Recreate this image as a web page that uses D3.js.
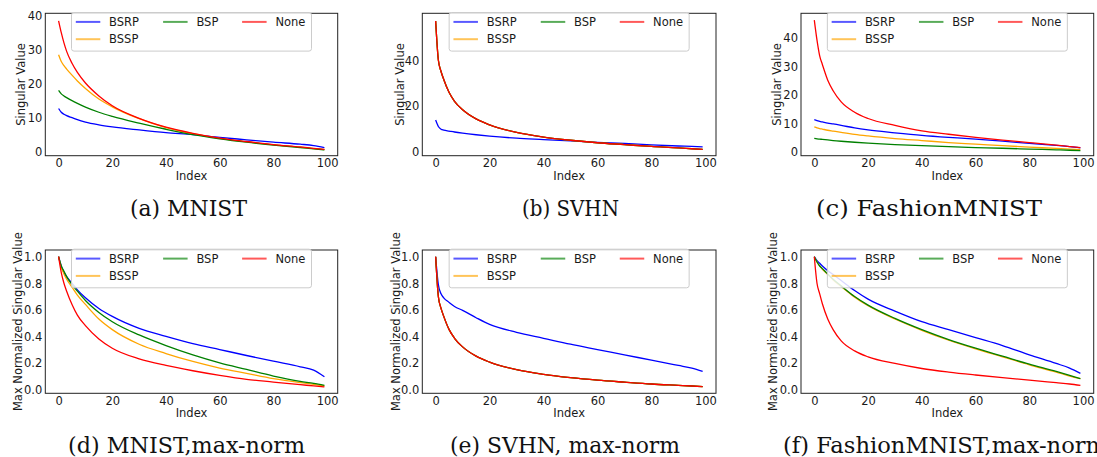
<!DOCTYPE html>
<html><head><meta charset="utf-8">
<script src="https://cdn.jsdelivr.net/npm/d3@7"></script>
<style>body{margin:0;background:#fff}</style></head>
<body><svg id="chart" width="1097" height="457"></svg>
<script>
// ---------- data ----------
const seriesNames = ["BSRP", "BSSP", "BSP", "None"];
const seriesColors = ["#0000ff", "#ffa500", "#008000", "#ff0000"];
const indexPts = [0, 1, 2, 3, 5, 7, 10, 15, 20, 30, 40, 50, 60, 70, 80, 90, 95, 99];
const xTicks = [0, 20, 40, 60, 80, 100];

// (a) MNIST raw singular values
const mnistBSRP = [12.7, 11.6, 11.0, 10.6, 10.0, 9.4, 8.7, 7.9, 7.3, 6.4, 5.6, 5.0, 4.2, 3.5, 2.8, 2.2, 1.8, 1.2];
const mnistBSSP = [28.5, 26.5, 25.3, 24.3, 22.5, 20.8, 18.6, 15.5, 13.2, 9.7, 7.1, 5.3, 3.9, 2.9, 2.0, 1.3, 0.9, 0.6];
const mnistBSP  = [18.0, 17.0, 16.4, 15.9, 15.0, 14.2, 13.1, 11.6, 10.4, 8.4, 6.6, 5.0, 3.8, 2.8, 1.95, 1.2, 0.85, 0.55];
const mnistNone = [38.5, 35.0, 32.0, 29.5, 26.0, 23.3, 20.2, 16.4, 13.5, 9.8, 7.2, 5.4, 4.0, 3.0, 2.1, 1.4, 1.0, 0.7];
// (b) SVHN raw
const svhnBSRP = [13.8, 11.0, 9.8, 9.4, 9.0, 8.6, 8.1, 7.4, 6.8, 5.9, 5.3, 4.7, 4.1, 3.6, 3.0, 2.5, 2.3, 2.1];
const svhnBSSP = [57.0, 40.0, 35.0, 31.5, 25.8, 22.0, 18.3, 14.3, 11.7, 8.4, 6.4, 5.0, 3.9, 3.1, 2.3, 1.7, 1.3, 1.0];
const svhnBSP  = [57.0, 40.0, 35.0, 31.5, 25.8, 22.0, 18.3, 14.3, 11.7, 8.4, 6.4, 5.0, 3.9, 3.1, 2.3, 1.7, 1.3, 1.0];
const svhnNone = [57.0, 40.0, 35.0, 31.5, 25.8, 22.0, 18.3, 14.3, 11.7, 8.4, 6.4, 5.0, 3.9, 3.1, 2.3, 1.7, 1.3, 1.0];
// (c) FashionMNIST raw
const fashionBSRP = [11.2, 10.9, 10.6, 10.4, 10.0, 9.7, 9.2, 8.3, 7.6, 6.6, 5.7, 5.0, 4.4, 3.7, 2.9, 2.2, 1.8, 1.35];
const fashionBSSP = [8.7, 8.35, 8.1, 7.9, 7.5, 7.2, 6.75, 6.05, 5.5, 4.6, 3.9, 3.2, 2.65, 2.1, 1.6, 1.15, 0.9, 0.7];
const fashionBSP  = [4.7, 4.5, 4.4, 4.3, 4.1, 3.9, 3.65, 3.3, 3.0, 2.5, 2.1, 1.75, 1.45, 1.2, 0.9, 0.65, 0.5, 0.4];
const fashionNone = [46.0, 39.0, 33.5, 30.5, 25.0, 21.3, 17.4, 13.8, 11.6, 9.2, 7.3, 6.1, 5.0, 4.05, 3.2, 2.3, 1.8, 1.4];
// (d) MNIST max-norm
const mnistNormBSRP = [1.0, 0.93, 0.88, 0.85, 0.80, 0.75, 0.69, 0.61, 0.55, 0.46, 0.40, 0.345, 0.30, 0.255, 0.212, 0.17, 0.145, 0.095];
const mnistNormBSSP = [1.0, 0.92, 0.87, 0.83, 0.77, 0.71, 0.64, 0.53, 0.45, 0.34, 0.27, 0.21, 0.16, 0.12, 0.08, 0.05, 0.037, 0.025];
const mnistNormBSP  = [1.0, 0.93, 0.89, 0.85, 0.79, 0.74, 0.67, 0.58, 0.51, 0.41, 0.33, 0.26, 0.20, 0.15, 0.10, 0.06, 0.045, 0.03];
const mnistNormNone = [1.0, 0.88, 0.80, 0.74, 0.64, 0.56, 0.48, 0.38, 0.31, 0.23, 0.18, 0.14, 0.105, 0.075, 0.055, 0.035, 0.026, 0.018];
// (e) SVHN max-norm
const svhnNormBSRP = [1.0, 0.79, 0.72, 0.69, 0.655, 0.625, 0.595, 0.54, 0.49, 0.43, 0.385, 0.34, 0.30, 0.26, 0.22, 0.18, 0.16, 0.135];
const svhnNormBSSP = [1.0, 0.70, 0.61, 0.55, 0.45, 0.385, 0.32, 0.25, 0.205, 0.148, 0.113, 0.088, 0.069, 0.054, 0.04, 0.03, 0.025, 0.02];
const svhnNormBSP  = [1.0, 0.70, 0.61, 0.55, 0.45, 0.385, 0.32, 0.25, 0.205, 0.148, 0.113, 0.088, 0.069, 0.054, 0.04, 0.03, 0.025, 0.02];
const svhnNormNone = [1.0, 0.70, 0.61, 0.55, 0.45, 0.385, 0.32, 0.25, 0.205, 0.148, 0.113, 0.088, 0.069, 0.054, 0.04, 0.03, 0.025, 0.02];
// (f) FashionMNIST max-norm
const fashionNormBSRP = [1.0, 0.97, 0.95, 0.93, 0.895, 0.865, 0.82, 0.745, 0.68, 0.59, 0.51, 0.45, 0.39, 0.33, 0.26, 0.195, 0.16, 0.12];
const fashionNormBSSP = [1.0, 0.96, 0.93, 0.905, 0.865, 0.825, 0.775, 0.695, 0.63, 0.53, 0.445, 0.37, 0.305, 0.245, 0.185, 0.13, 0.1, 0.08];
const fashionNormBSP  = [1.0, 0.96, 0.93, 0.91, 0.87, 0.83, 0.78, 0.70, 0.635, 0.535, 0.45, 0.375, 0.31, 0.25, 0.19, 0.135, 0.105, 0.08];
const fashionNormNone = [1.0, 0.80, 0.72, 0.645, 0.53, 0.45, 0.365, 0.29, 0.245, 0.195, 0.157, 0.13, 0.108, 0.088, 0.07, 0.05, 0.04, 0.03];

const yTicksA = [0, 10, 20, 30, 40];
const yTicksB = [0, 20, 40];
const yTicksC = [0, 10, 20, 30, 40];
const yTicksNorm = [0.0, 0.2, 0.4, 0.6, 0.8, 1.0];

const captions = ["(a) MNIST", "(b) SVHN", "(c) FashionMNIST", "(d) MNIST,max-norm", "(e) SVHN, max-norm", "(f) FashionMNIST,max-norm"];
const yLabelRaw = "Singular Value";
const yLabelNorm = "Max Normalized Singular Value";
const xLabel = "Index";

// ---------- layout ----------
const cols = [{l: 45.3, r: 337.7, yl: 24.7, ylN: 21.5},
              {l: 422.3, r: 716, yl: 404, ylN: 400},
              {l: 801, r: 1093.7, yl: 781, ylN: 777}];
const rows = [{t: 13.3, b: 155.7, cap: 216}, {t: 250, b: 393.3, cap: 453}];
// caption placement: left edge and width
const capPos = [{x: 130, w: 117}, {x: 522, w: 97}, {x: 816, w: 226},
                {x: 68, w: 237}, {x: 450, w: 230}, {x: 783, w: 324}];

const panels = [
  {c: 0, r: 0, data: [mnistBSRP, mnistBSSP, mnistBSP, mnistNone], yDom: [-1.18, 40.7], ticks: yTicksA, fmt: d3.format("d"), ylab: yLabelRaw},
  {c: 1, r: 0, data: [svhnBSRP, svhnBSSP, svhnBSP, svhnNone], yDom: [-1.74, 60.37], ticks: yTicksB, fmt: d3.format("d"), ylab: yLabelRaw},
  {c: 2, r: 0, data: [fashionBSRP, fashionBSSP, fashionBSP, fashionNone], yDom: [-1.4, 48.39], ticks: yTicksC, fmt: d3.format("d"), ylab: yLabelRaw},
  {c: 0, r: 1, data: [mnistNormBSRP, mnistNormBSSP, mnistNormBSP, mnistNormNone], yDom: [-0.03, 1.0505], ticks: yTicksNorm, fmt: d3.format(".1f"), ylab: yLabelNorm},
  {c: 1, r: 1, data: [svhnNormBSRP, svhnNormBSSP, svhnNormBSP, svhnNormNone], yDom: [-0.03, 1.0505], ticks: yTicksNorm, fmt: d3.format(".1f"), ylab: yLabelNorm},
  {c: 2, r: 1, data: [fashionNormBSRP, fashionNormBSSP, fashionNormBSP, fashionNormNone], yDom: [-0.03, 1.0505], ticks: yTicksNorm, fmt: d3.format(".1f"), ylab: yLabelNorm}
];

const svg = d3.select("#chart");
svg.append("rect").attr("width", 1097).attr("height", 457).attr("fill", "#fff");
const sans = "'DejaVu Sans', sans-serif";
const fs = 11.5;

panels.forEach((p, pi) => {
  const col = cols[p.c], row = rows[p.r];
  const x = d3.scaleLinear().domain([-4.95, 103.95]).range([col.l, col.r]);
  const y = d3.scaleLinear().domain(p.yDom).range([row.b, row.t]);
  const g = svg.append("g");

  const clipId = "clip" + p.c + p.r;
  svg.append("clipPath").attr("id", clipId).append("rect")
    .attr("x", col.l).attr("y", row.t).attr("width", col.r - col.l).attr("height", row.b - row.t);

  // lines
  const line = d3.line().x((d, i) => x(indexPts[i])).y(d => y(d)).curve(d3.curveMonotoneX);
  const lg = g.append("g").attr("clip-path", `url(#${clipId})`);
  p.data.forEach((arr, k) => {
    lg.append("path").attr("d", line(arr)).attr("fill", "none")
      .attr("stroke", seriesColors[k]).attr("stroke-width", 1.3).attr("stroke-linejoin", "round");
  });

  // axes (tick labels via d3 axes)
  const xAxis = d3.axisBottom(x).tickValues(xTicks).tickSize(0).tickPadding(3).tickFormat(d3.format("d"));
  const yAxis = d3.axisLeft(y).tickValues(p.ticks).tickSize(0).tickPadding(3).tickFormat(p.fmt);
  const gx = g.append("g").attr("transform", `translate(0,${row.b})`).call(xAxis);
  const gy = g.append("g").attr("transform", `translate(${col.l},0)`).call(yAxis);
  [gx, gy].forEach(a => {
    a.select(".domain").remove();
    a.selectAll("text").attr("font-family", sans).attr("font-size", fs).attr("fill", "#1a1a1a");
  });
  gx.selectAll("text").attr("dy", null).attr("y", 11.5).attr("dominant-baseline", "auto");
  gy.selectAll("text").attr("dy", "0.36em");

  g.append("rect").attr("x", col.l).attr("y", row.t).attr("width", col.r - col.l).attr("height", row.b - row.t)
    .attr("fill", "none").attr("stroke", "#222").attr("stroke-width", 1);

  // axis labels
  g.append("text").attr("x", (col.l + col.r) / 2).attr("y", row.b + 24)
    .attr("text-anchor", "middle").attr("font-family", sans).attr("font-size", fs).attr("fill", "#1a1a1a").text(xLabel);
  const ylx = p.r === 0 ? col.yl : col.ylN;
  g.append("text").attr("transform", `translate(${ylx},${(row.t + row.b) / 2}) rotate(-90)`)
    .attr("text-anchor", "middle").attr("font-family", sans).attr("font-size", fs).attr("fill", "#1a1a1a").text(p.ylab);

  // legend
  const cx = (col.l + col.r) / 2;
  const bx = cx - 120, by = row.t - 0.8;
  g.append("rect").attr("x", bx).attr("y", by).attr("width", 240).attr("height", 38.6).attr("rx", 2.5)
    .attr("fill", "#fff").attr("fill-opacity", 0.85).attr("stroke", "#cccccc").attr("stroke-width", 1);
  const slots = [{c: 0, r: 0}, {c: 0, r: 1}, {c: 1, r: 0}, {c: 2, r: 0}];
  const colX = [4.3, 91.6, 170.6];
  const rowY = [9.4, 26.7];
  seriesNames.forEach((name, k) => {
    const s = slots[k];
    const hx = bx + colX[s.c], hy = by + rowY[s.r];
    g.append("line").attr("x1", hx).attr("x2", hx + 24.5).attr("y1", hy).attr("y2", hy)
      .attr("stroke", seriesColors[k]).attr("stroke-width", 2).attr("stroke-opacity", 0.65);
    g.append("text").attr("x", hx + 33.3).attr("y", hy).attr("dy", "0.36em")
      .attr("font-family", sans).attr("font-size", fs).attr("fill", "#1a1a1a").text(name);
  });

  // caption
  const cp = capPos[pi];
  svg.append("text").attr("x", cp.x).attr("y", row.cap)
    .attr("text-anchor", "start").attr("font-family", "'DejaVu Serif', serif").attr("font-size", 22)
    .attr("fill", "#111").attr("textLength", cp.w).attr("lengthAdjust", "spacingAndGlyphs")
    .text(captions[pi]);
});
</script></body></html>
